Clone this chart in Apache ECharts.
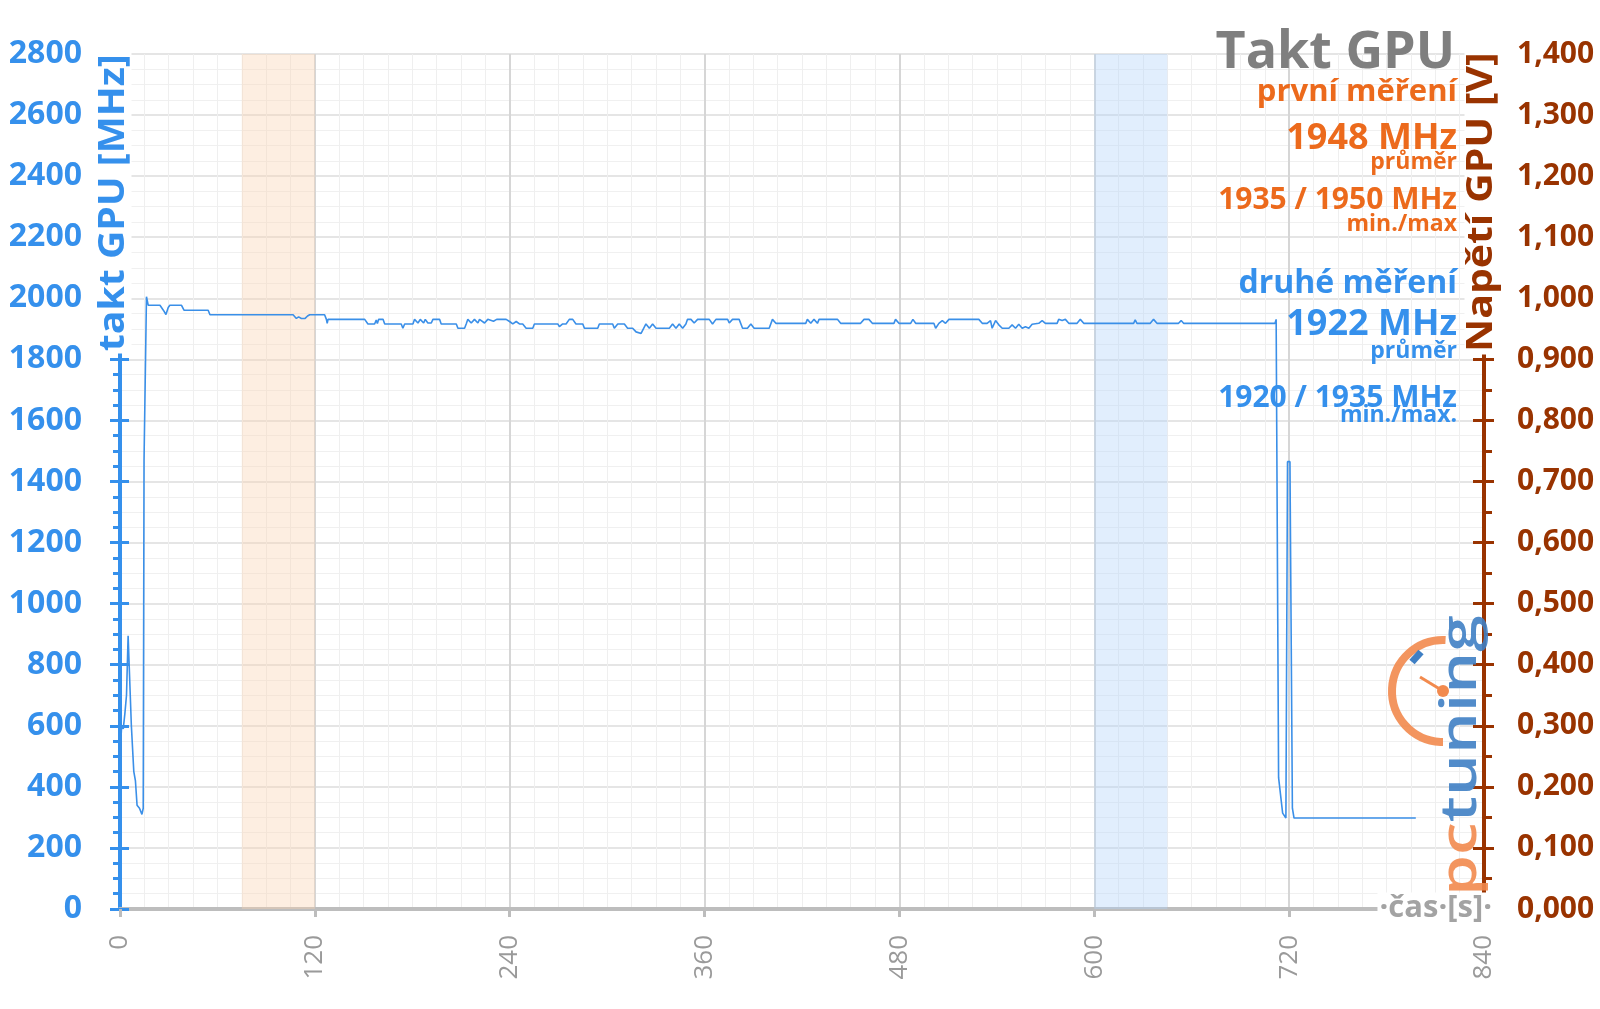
<!DOCTYPE html>
<html><head><meta charset="utf-8">
<script src="https://cdn.jsdelivr.net/npm/echarts@6/dist/echarts.min.js"></script>
<style>html,body{margin:0;padding:0;background:#fff}#c{width:1600px;height:1009px}</style>
</head><body><div id="c"></div>
<script>
// ---- data ----
const timeRange = [0, 840, 120];        // x axis: min, max, interval (s)
const clockRange = [0, 2800, 200];      // left axis (MHz)
const voltRange = [0, 1.4, 0.1];        // right axis (V)
const orangeBand = [75, 120];           // první měření window (s)
const blueBand = [600, 645];            // druhé měření window (s)
// [time s, clock MHz] for the druhé měření run
const clockSamples = [
[0,495],[1,600],[2,590],[3,640],[4,700],[5,895],[6,895],[7,600],[8.5,450],[9.5,420],[10.5,340],[12,330],[13.5,310],[14.3,330],[14.8,1470],[15.2,1470],[16.3,2005],[17.4,1977],[24.6,1977],[26.7,1961],[28.3,1947],[29.7,1970],[30.7,1977],[37.9,1977],[39.4,1961],[54.3,1961],[55.4,1946],[106.6,1946],[108.6,1934],[110,1939],[111.7,1934],[114,1934],[115.5,1942],[116.8,1946],[126,1946],[127.1,1931],[127.6,1918],[128.1,1931],[150.7,1931],[152.7,1916],[156.8,1916],[157.8,1929],[158.5,1917],[159.3,1931],[162,1931],[163,1916],[173.2,1916],[174.2,1902],[175.3,1916],[180.4,1916],[181.4,1931],[183.5,1919],[184.9,1931],[187,1919],[188,1931],[189.6,1919],[191.7,1919],[192.7,1931],[196.8,1931],[197.8,1916],[207.1,1916],[208.1,1902],[212.2,1902],[213.2,1916],[214.2,1931],[216.3,1919],[218.3,1931],[220.4,1919],[221.4,1931],[224.5,1919],[226.5,1931],[230,1925],[232,1931],[237.8,1931],[239.9,1924],[241.9,1916],[244,1924],[246,1916],[248,1916],[250.1,1902],[254.2,1902],[255.2,1916],[269.6,1916],[270.6,1907],[272.6,1916],[274.7,1916],[276.7,1931],[278.8,1931],[280.8,1916],[285,1916],[286,1902],[294.2,1902],[295.2,1916],[303.4,1916],[304.4,1902],[306.5,1916],[310.6,1916],[312.6,1902],[315.7,1902],[317.8,1890],[318.8,1885],[320.9,1885],[321.9,1890],[323.9,1916],[326,1902],[328,1916],[330.1,1902],[338.3,1902],[340.3,1916],[342.4,1902],[344.4,1916],[346.5,1902],[348.5,1916],[349.5,1931],[351.6,1931],[353.6,1919],[355.7,1931],[362.9,1931],[364.9,1916],[367,1931],[372.1,1931],[374.2,1931],[375.2,1919],[377.2,1931],[381.3,1931],[383.4,1902],[386.4,1902],[388.5,1916],[390.5,1902],[399.8,1902],[401.8,1931],[403.9,1918],[418.2,1918],
[422.3,1918],[423.3,1931],[425.4,1918],[427.4,1931],[429.5,1918],[430.5,1931],[441.8,1931],[443.8,1918],[456.1,1918],[458.2,1931],[461.2,1931],[463.3,1918],[476.6,1918],[477.6,1931],[479.7,1918],[486.9,1918],[488.3,1931],[490,1918],[501.2,1918],[502.3,1902],[504.3,1918],[506.4,1927],[508.4,1918],[510.5,1931],[528.9,1931],[531,1918],[534,1918],[536.1,1927],[537.1,1902],[539.2,1927],[541.2,1913],[543.3,1902],[547.4,1902],[549.4,1913],[551.5,1902],[553.5,1915],[555.6,1902],[557.6,1907],[559.7,1902],[561.7,1915],[565.8,1918],[567.9,1927],[569.9,1918],[577.1,1918],[578.1,1931],[580.2,1927],[582.2,1931],[584.3,1918],[589.4,1918],[591.4,1931],[593.5,1918],[624.2,1918],[625.2,1929],[626.3,1918],[634.5,1918],[636.5,1931],[638.6,1918],[651.9,1918],[653.5,1927],[655,1918],[711.3,1918],[712,1931],[712.8,1931],[713.5,430],[716,314],[718,298],[719,1465],[720.5,1465],[722,330],[723,298],[798,298]
];
// annotation texts: [text, fontSize, baselineY, colorKey]
const titleText = 'Takt GPU';
const annotations = [
  ['první měření', 31, 100, 'o'],
  ['1948 MHz', 36, 148, 'o'],
  ['průměr', 23, 168, 'o'],
  ['1935 / 1950 MHz', 30, 208, 'o'],
  ['min./max', 23, 230, 'o'],
  ['druhé měření', 32, 292, 'b'],
  ['1922 MHz', 36, 334, 'b'],
  ['průměr', 23, 357, 'b'],
  ['1920 / 1935 MHz', 30, 406, 'b'],
  ['min./max.', 23, 421, 'b']
];
const leftAxisName = 'takt GPU [MHz]';
const rightAxisName = 'Napětí GPU [V]';
const xAxisName = '·čas·[s]·';

// ---- style ----
const BLUE = '#3590ec', LINE = '#3a8fe8', ORANGE = '#ec6a1c', BROWN = '#993300', GRAY = '#7f7f7f';
const FONT = '"Open Sans", "DejaVu Sans", sans-serif';
const K = 0.25;

const chart = echarts.init(document.getElementById('c'), null, {renderer: 'canvas'});

const graphics = [];
graphics.push({type:'text', x: 1455, y: 66 - K*52, z: 100,
  style:{text: titleText, font: 'bold 52px ' + FONT, fill: GRAY, align:'right', verticalAlign:'middle'}});
annotations.forEach(a => {
  graphics.push({type:'text', x: 1457, y: a[2] - K*a[1], z: 100,
    style:{text: a[0], font: 'bold ' + a[1] + 'px ' + FONT, fill: a[3]==='o'?ORANGE:BLUE, align:'right', verticalAlign:'middle'}});
});
// axis titles (rotated)
graphics.push({type:'text', x: 114, y: 52, rotation: Math.PI/2, scaleX: 1.12, z: 100,
  style:{text: leftAxisName, font:'bold 35px ' + FONT, fill: BLUE, align:'right', verticalAlign:'middle', backgroundColor:'#fff', padding:[0,2]}});
graphics.push({type:'text', x: 1482, y: 50, rotation: Math.PI/2, scaleX: 1.17, z: 100,
  style:{text: rightAxisName, font:'bold 35px ' + FONT, fill: BROWN, align:'right', verticalAlign:'middle', backgroundColor:'#fff', padding:[0,2]}});
graphics.push({type:'text', x: 1494, y: 908, z: 100,
  style:{text: xAxisName, font:'bold 31px ' + FONT, fill: '#a3a3a3', align:'right', verticalAlign:'middle', backgroundColor:'#fff', padding:[0,2]}});
// logo watermark
graphics.push({type:'arc', z: 50, shape:{cx:1443, cy:691, r:51, startAngle:-Math.PI/2+0.05, endAngle:Math.PI/2, clockwise:false},
  style:{stroke:'#f28a4e', lineWidth:8, fill:null, opacity:0.9}});
graphics.push({type:'line', z: 51, shape:{x1:1412, y1:662, x2:1421, y2:652}, style:{stroke:'#3f7fc4', lineWidth:7}});
graphics.push({type:'line', z: 51, shape:{x1:1420, y1:677, x2:1443, y2:691}, style:{stroke:'#f28a4e', lineWidth:3}});
graphics.push({type:'circle', z: 51, shape:{cx:1443, cy:691, r:6}, style:{fill:'#f28a4e'}});
graphics.push({type:'text', x: 1462, y: 896, rotation: Math.PI/2, scaleX: 1.32, z: 52,
  style:{rich:{p:{fill:'#f28a4e', font:'600 50px ' + FONT}, t:{fill:'#3f7fc4', font:'600 50px ' + FONT}},
    text:'{p|pc}{t|tuning}', align:'left', verticalAlign:'middle', opacity:0.9}});

const option = {
  animation: false,
  backgroundColor: '#fff',
  grid: {left: 120, right: 116, top: 54, bottom: 100, containLabel: false},
  xAxis: {
    type: 'value', min: timeRange[0], max: timeRange[1], interval: timeRange[2],
    axisLine: {show: true, onZero: false, lineStyle: {color: '#bdbdbd', width: 4}},
    axisTick: {show: true, length: 8, lineStyle: {color: '#bdbdbd', width: 3}},
    minorTick: {show: false, splitNumber: 8},
    axisLabel: {rotate: 90, color: '#9a9a9a', fontSize: 26, fontFamily: FONT, margin: 26},
    splitLine: {show: true, lineStyle: {color: '#d6d6d6', width: 2}},
    minorSplitLine: {show: true, lineStyle: {color: '#efefef', width: 1}}
  },
  yAxis: [
    {
      type: 'value', position: 'left', min: clockRange[0], max: clockRange[1], interval: clockRange[2],
      axisLine: {show: true, lineStyle: {color: BLUE, width: 4}},
      axisTick: {show: true, length: 10, lineStyle: {color: BLUE, width: 3}},
      minorTick: {show: true, splitNumber: 4, length: 7, lineStyle: {color: BLUE, width: 3}},
      axisLabel: {color: BLUE, fontSize: 32, fontWeight: 'bold', fontFamily: FONT, margin: 38,
        formatter: v => String(v)},
      splitLine: {show: true, lineStyle: {color: '#dcdcdc', width: 1.5}},
      minorSplitLine: {show: true, lineStyle: {color: '#f0f0f0', width: 1}}
    },
    {
      type: 'value', position: 'right', min: voltRange[0], max: voltRange[1], interval: voltRange[2],
      axisLine: {show: true, lineStyle: {color: BROWN, width: 4}},
      axisTick: {show: true, length: 10, lineStyle: {color: BROWN, width: 3}},
      minorTick: {show: true, splitNumber: 2, length: 8, lineStyle: {color: BROWN, width: 3}},
      axisLabel: {color: BROWN, fontSize: 30, fontWeight: 'bold', fontFamily: FONT, margin: 33,
        formatter: v => v.toFixed(3).replace('.', ',')},
      splitLine: {show: false}
    },
    {
      type: 'value', position: 'left', min: clockRange[0], max: clockRange[1], interval: clockRange[2],
      axisLine: {show: false}, axisLabel: {show: false}, splitLine: {show: false},
      axisTick: {show: true, inside: true, length: 9, lineStyle: {color: BLUE, width: 3}}
    },
    {
      type: 'value', position: 'right', min: voltRange[0], max: voltRange[1], interval: voltRange[2],
      axisLine: {show: false}, axisLabel: {show: false}, splitLine: {show: false},
      axisTick: {show: true, inside: true, length: 11, lineStyle: {color: BROWN, width: 3}}
    }
  ],
  series: [{
    name: 'druhé měření', type: 'line', yAxisIndex: 0, showSymbol: false, symbol: 'none',
    data: clockSamples,
    lineStyle: {color: LINE, width: 1.6},
    z: 3,
    markArea: {silent: true, data: [
      [{xAxis: orangeBand[0], itemStyle: {color: 'rgba(250,210,175,0.38)'}}, {xAxis: orangeBand[1]}],
      [{xAxis: blueBand[0], itemStyle: {color: 'rgba(175,210,250,0.38)'}}, {xAxis: blueBand[1]}]
    ]}
  }],
  graphic: graphics
};
chart.setOption(option);
</script></body></html>
